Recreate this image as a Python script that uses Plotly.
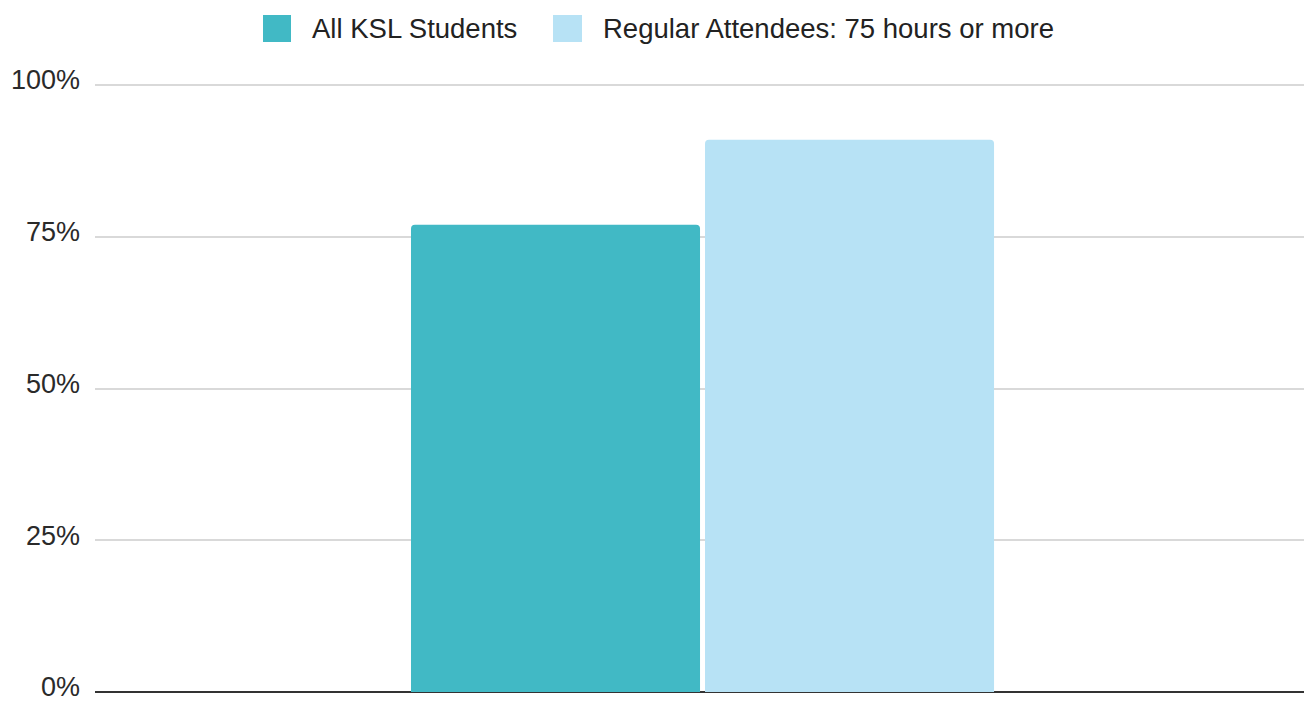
import plotly.graph_objects as go

# Data
categories = ["Students"]
series_names = ["All KSL Students", "Regular Attendees: 75 hours or more"]
series_values = [[77], [91]]
series_colors = ["#41B9C5", "#B7E2F5"]
y_ticks = [0, 25, 50, 75, 100]
y_tick_labels = ["0%", "25%", "50%", "75%", "100%"]

FONT = "Liberation Sans, Arial, sans-serif"
FS = 27.5

FIG_W, FIG_H = 1304, 702
ML, MR, MT, MB = 95, 0, 82, 10

fig = go.Figure()
for name, vals, col in zip(series_names, series_values, series_colors):
    fig.add_trace(go.Bar(
        x=categories, y=vals, name=name,
        marker=dict(color=col, line=dict(width=0), cornerradius=4),
        showlegend=False,
    ))

# Legend drawn as large squares + text (matching the reference's big swatches)
L = ML
W = FIG_W - ML - MR
plot_top = MT
H = FIG_H - MT - MB
plot_bot = plot_top + H
def px(x):
    return (x - L) / W
def py(y):
    return (plot_bot - y) / H
legend_sq = [(263, 291), (553, 582)]
legend_txt = [310, 601]
for (x0, x1), tx, name, col in zip(legend_sq, legend_txt, series_names, series_colors):
    fig.add_shape(type="rect", xref="paper", yref="paper",
                  x0=px(x0), x1=px(x1), y0=py(42), y1=py(15),
                  fillcolor=col, line=dict(width=0), layer="above")
    fig.add_annotation(xref="paper", yref="paper", x=px(tx), y=py(28.5),
                       text=name, showarrow=False, xanchor="left", yanchor="middle",
                       font=dict(family=FONT, size=FS, color="#222222"))

fig.update_layout(
    width=FIG_W, height=FIG_H,
    margin=dict(l=ML, r=MR, t=MT, b=MB, autoexpand=False),
    paper_bgcolor="white", plot_bgcolor="white",
    barmode="group", bargap=0.5136, bargroupgap=0.017,
    font=dict(family=FONT, size=FS, color="#333333"),
    showlegend=False,
)
fig.update_xaxes(range=[-0.5025, 0.4975], showticklabels=False, showgrid=False,
                 zeroline=False, showline=False, ticks="", automargin=False)
fig.update_yaxes(range=[0, 100.5], tickvals=y_ticks, ticktext=y_tick_labels,
                 showgrid=True, gridcolor="#d9d9d9", gridwidth=2,
                 zeroline=True, zerolinecolor="#333333", zerolinewidth=2,
                 showline=False, ticks="", ticklabelstandoff=14,
                 ticklabelshift=-5,
                 ticklabeloverflow="allow", automargin=False,
                 tickfont=dict(family=FONT, size=27, color="#2a2a2a"))

fig.write_html(
    "out.html",
    config={"displayModeBar": False},
    post_script="document.body.style.margin='0';document.body.style.overflow='hidden';",
)
